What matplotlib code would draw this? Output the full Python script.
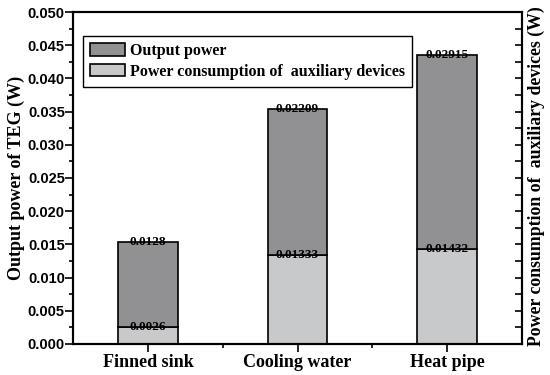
import numpy as np
from matplotlib import pyplot as plt
from matplotlib.ticker import MultipleLocator

# data
categories = ['Finned sink', 'Cooling water', 'Heat pipe']
aux_power = [0.0026, 0.01333, 0.01432]
output_power = [0.0128, 0.02209, 0.02915]
aux_labels = ['0.0026', '0.01333', '0.01432']
out_labels = ['0.0128', '0.02209', '0.02915']

serif = ['Liberation Serif', 'DejaVu Serif']
sans = ['Liberation Sans', 'DejaVu Sans']

fig = plt.figure(figsize=(5.5, 3.75), dpi=100)
ax = fig.add_axes([0.133, 0.083, 0.816, 0.885])

x = np.arange(1, len(categories) + 1)
bottom = np.array(aux_power)
top = bottom + np.array(output_power)

ax.bar(x, aux_power, width=0.4, color='#c8c9cb', edgecolor='black', lw=1.2,
       label='Power consumption of  auxiliary devices', zorder=2)
ax.bar(x, output_power, width=0.4, bottom=aux_power, color='#919194',
       edgecolor='black', lw=1.2, label='Output power', zorder=2)

for xi, b, t, lb, lt in zip(x, bottom, top, aux_labels, out_labels):
    ax.text(xi, b, lb, ha='center', va='center', fontsize=9.5,
            family=serif, fontweight='bold', zorder=3)
    ax.text(xi, t, lt, ha='center', va='center', fontsize=9.5,
            family=serif, fontweight='bold', zorder=3)

ax.set_xlim(0.5, 3.5)
ax.set_ylim(0, 0.05)
ax.set_xticks(x)
ax.set_xticklabels(categories, family=serif, fontweight='bold', fontsize=13)
ax.set_xticks([1.5, 2.5], minor=True)
ax.yaxis.set_major_locator(MultipleLocator(0.005))
ax.yaxis.set_minor_locator(MultipleLocator(0.0025))
ax.yaxis.set_major_formatter(plt.FormatStrFormatter('%.3f'))
for lab in ax.get_yticklabels():
    lab.set_family(sans)
    lab.set_fontweight('bold')
    lab.set_fontsize(10.5)

ax.tick_params(axis='both', which='major', direction='out', length=5.5, width=1.2)
ax.tick_params(axis='both', which='minor', direction='out', length=3, width=1.2)
ax.tick_params(axis='y', which='major', pad=0.5)
ax.tick_params(axis='x', which='major', pad=2)

ax.set_ylabel('Output power of TEG (W)', family=serif, fontweight='bold',
              fontsize=13, labelpad=2)

for s in ax.spines.values():
    s.set_linewidth(1.5)

# right axis, ticks only
ax2 = ax.twinx()
ax2.set_ylim(0, 0.05)
ax2.yaxis.set_major_locator(MultipleLocator(0.0025))
ax2.set_yticklabels([])
ax2.tick_params(axis='y', direction='in', length=5, width=1.2, pad=0)
ax2.set_ylabel('Power consumption of  auxiliary devices (W)', family=serif,
               fontweight='bold', fontsize=12.8)
ax2.yaxis.set_label_coords(1.012, 0.505)
for s in ax2.spines.values():
    s.set_linewidth(1.5)

handles, labels = ax.get_legend_handles_labels()
leg = ax.legend(handles[::-1], labels[::-1], loc='upper left',
                bbox_to_anchor=(0.022, 0.928), prop={'family': serif, 'weight': 'bold', 'size': 11.5},
                frameon=True, fancybox=False, edgecolor='black', framealpha=1,
                handlelength=2.2, handleheight=0.8, borderpad=0.45,
                labelspacing=0.3, handletextpad=0.3, borderaxespad=0)
leg.get_frame().set_linewidth(1.0)

fig.savefig('out.png', dpi=100)
